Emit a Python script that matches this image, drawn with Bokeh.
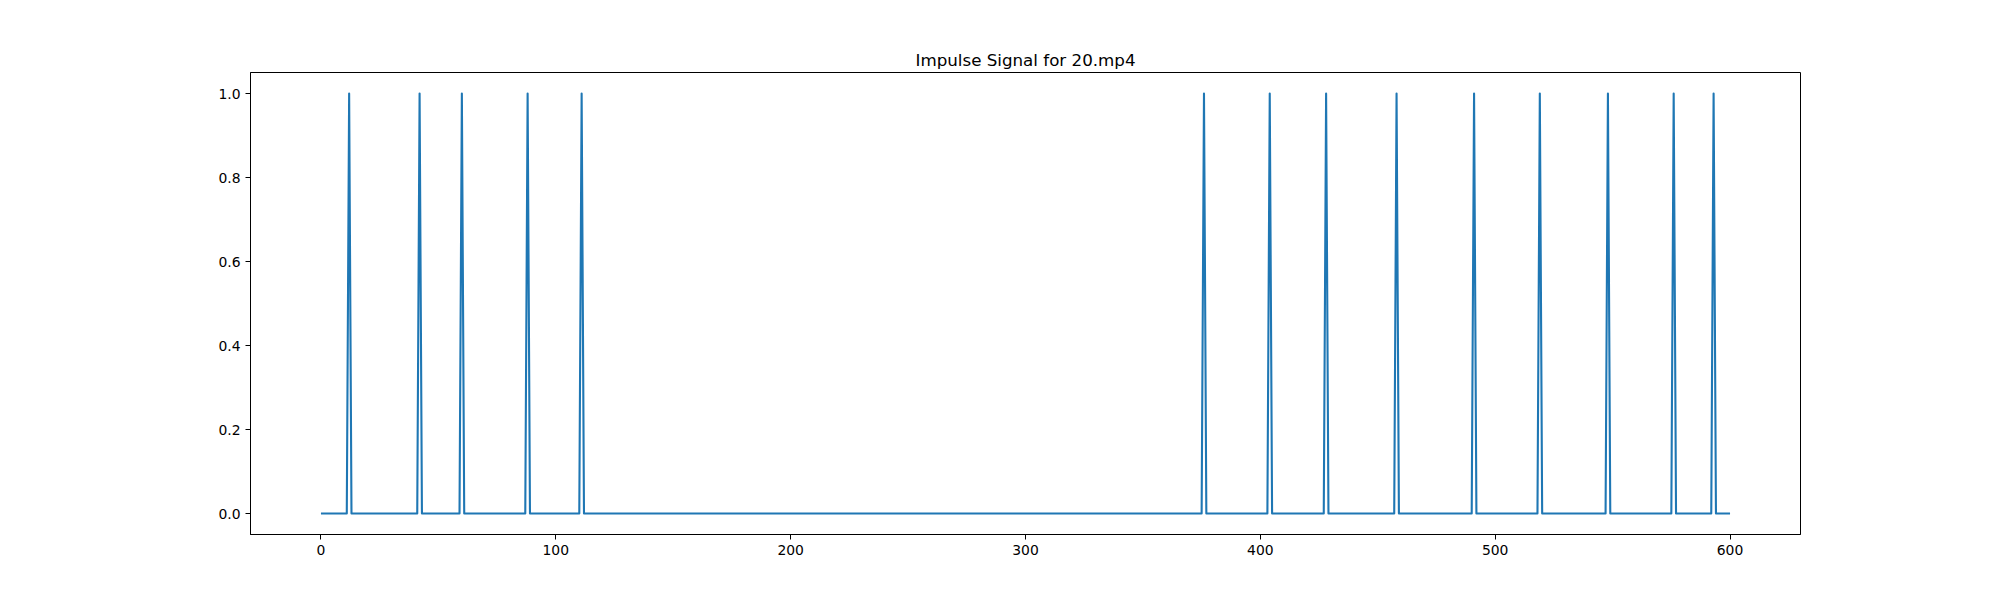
from bokeh.plotting import figure
from bokeh.models import Range1d, FixedTicker, PrintfTickFormatter
from bokeh.embed import file_html
from bokeh.resources import INLINE

# Data
title_text = "Impulse Signal for 20.mp4"
n_frames = 601
spike_frames = [12, 42, 60, 88, 111, 376, 404, 428, 458, 491, 519, 548, 576, 593]
x_ticks = [0, 100, 200, 300, 400, 500, 600]
y_ticks = [0.0, 0.2, 0.4, 0.6, 0.8, 1.0]

frames = list(range(n_frames))
signal = [0.0] * n_frames
for f in spike_frames:
    signal[f] = 1.0

p = figure(width=1992, height=592, output_backend="svg", toolbar_location=None,
           x_range=Range1d(-30, 630), y_range=Range1d(-0.05, 1.05),
           min_border_left=250, min_border_right=192, min_border_top=72, min_border_bottom=58,
           title=title_text)

p.line(frames, signal, line_color="#1f77b4", line_width=2.1, line_join="round")

p.title.align = "center"
p.title.text_font = "DejaVu Sans"
p.title.text_font_size = "16.7px"
p.title.text_font_style = "normal"
p.title.text_color = "black"
p.title.standoff = 6

p.xgrid.visible = False
p.ygrid.visible = False
p.outline_line_color = "black"
p.outline_line_width = 1
p.outline_line_alpha = 1.0
p.background_fill_color = "white"
p.border_fill_color = "white"

p.xaxis.ticker = FixedTicker(ticks=x_ticks)
p.yaxis.ticker = FixedTicker(ticks=y_ticks)
p.yaxis.formatter = PrintfTickFormatter(format="%.1f")

for ax in (p.xaxis[0], p.yaxis[0]):
    ax.major_tick_out = 5
    ax.major_tick_in = 0
    ax.minor_tick_out = 0
    ax.minor_tick_in = 0
    ax.major_tick_line_color = "black"
    ax.axis_line_color = "black"
    ax.major_label_text_font = "DejaVu Sans"
    ax.major_label_text_font_size = "13.9px"
    ax.major_label_text_color = "black"
    ax.major_label_standoff = 5

open("out.html", "w").write(file_html(p, INLINE))
